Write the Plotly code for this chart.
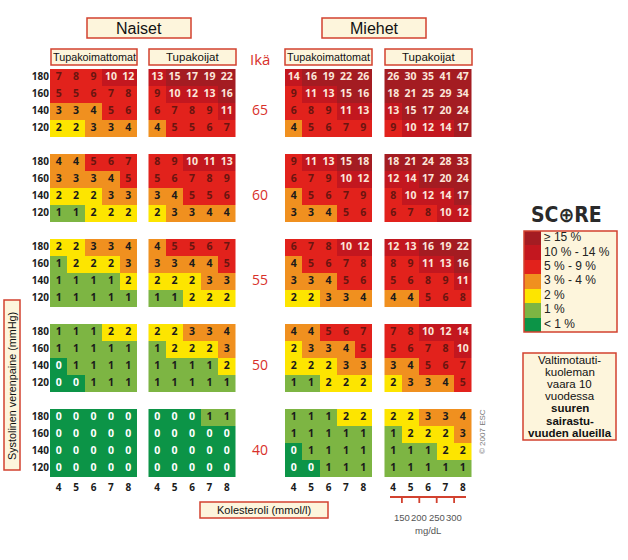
import plotly.graph_objects as go

# --- data -----------------------------------------------------------------
chol = [4, 5, 6, 7, 8]              # kolesteroli mmol/l (sarakkeet)
sbp = [180, 160, 140, 120]          # systolinen verenpaine (rivit)
ages = [65, 60, 55, 50, 40]
mgdl = [150, 200, 250, 300]

naiset_tupakoimattomat = [
    [[7, 8, 9, 10, 12], [5, 5, 6, 7, 8], [3, 3, 4, 5, 6], [2, 2, 3, 3, 4]],
    [[4, 4, 5, 6, 7], [3, 3, 3, 4, 5], [2, 2, 2, 3, 3], [1, 1, 2, 2, 2]],
    [[2, 2, 3, 3, 4], [1, 2, 2, 2, 3], [1, 1, 1, 1, 2], [1, 1, 1, 1, 1]],
    [[1, 1, 1, 2, 2], [1, 1, 1, 1, 1], [0, 1, 1, 1, 1], [0, 0, 1, 1, 1]],
    [[0, 0, 0, 0, 0], [0, 0, 0, 0, 0], [0, 0, 0, 0, 0], [0, 0, 0, 0, 0]],
]
naiset_tupakoijat = [
    [[13, 15, 17, 19, 22], [9, 10, 12, 13, 16], [6, 7, 8, 9, 11], [4, 5, 5, 6, 7]],
    [[8, 9, 10, 11, 13], [5, 6, 7, 8, 9], [3, 4, 5, 5, 6], [2, 3, 3, 4, 4]],
    [[4, 5, 5, 6, 7], [3, 3, 4, 4, 5], [2, 2, 2, 3, 3], [1, 1, 2, 2, 2]],
    [[2, 2, 3, 3, 4], [1, 2, 2, 2, 3], [1, 1, 1, 1, 2], [1, 1, 1, 1, 1]],
    [[0, 0, 0, 1, 1], [0, 0, 0, 0, 0], [0, 0, 0, 0, 0], [0, 0, 0, 0, 0]],
]
miehet_tupakoimattomat = [
    [[14, 16, 19, 22, 26], [9, 11, 13, 15, 16], [6, 8, 9, 11, 13], [4, 5, 6, 7, 9]],
    [[9, 11, 13, 15, 18], [6, 7, 9, 10, 12], [4, 5, 6, 7, 9], [3, 3, 4, 5, 6]],
    [[6, 7, 8, 10, 12], [4, 5, 6, 7, 8], [3, 3, 4, 5, 6], [2, 2, 3, 3, 4]],
    [[4, 4, 5, 6, 7], [2, 3, 3, 4, 5], [2, 2, 2, 3, 3], [1, 1, 2, 2, 2]],
    [[1, 1, 1, 2, 2], [1, 1, 1, 1, 1], [0, 1, 1, 1, 1], [0, 0, 1, 1, 1]],
]
miehet_tupakoijat = [
    [[26, 30, 35, 41, 47], [18, 21, 25, 29, 34], [13, 15, 17, 20, 24], [9, 10, 12, 14, 17]],
    [[18, 21, 24, 28, 33], [12, 14, 17, 20, 24], [8, 10, 12, 14, 17], [6, 7, 8, 10, 12]],
    [[12, 13, 16, 19, 22], [8, 9, 11, 13, 16], [5, 6, 8, 9, 11], [4, 4, 5, 6, 8]],
    [[7, 8, 10, 12, 14], [5, 6, 7, 8, 10], [3, 4, 5, 6, 7], [2, 3, 3, 4, 5]],
    [[2, 2, 3, 3, 4], [1, 2, 2, 2, 3], [1, 1, 1, 2, 2], [1, 1, 1, 1, 1]],
]

legend_labels = ["≥ 15 %", "10 % - 14 %", "5 % - 9 %", "3 % - 4 %", "2 %", "1 %", "< 1 %"]
# colours for categories <1, 1, 2, 3-4, 5-9, 10-14, >=15
cat_colors = ["#0c9447", "#7db543", "#fde500", "#f0901f", "#e2221c", "#c3171f", "#a41c22"]
text_colors = ["#ffffff", "#1b1b1b", "#1b1b1b", "#1b1b1b", "#6a1510", "#fbe6da", "#fbe6da"]


def category(v):
    if v < 1:
        return 0
    if v == 1:
        return 1
    if v == 2:
        return 2
    if v <= 4:
        return 3
    if v <= 9:
        return 4
    if v <= 14:
        return 5
    return 6


cscale = []
for i, c in enumerate(cat_colors):
    cscale.append([i / 7, c])
    cscale.append([(i + 1) / 7, c])

# --- layout constants (pixel space) ---------------------------------------
PANEL_X = [50, 148.5, 285, 384.5]
BLOCK_Y = [69, 154, 239, 324, 409]
CW = 17.4
CH = 17
RED = "#d2412f"
CREAM = "#fdf5dc"
SANS = "Liberation Sans, Arial"

fig = go.Figure()
panels = [naiset_tupakoimattomat, naiset_tupakoijat, miehet_tupakoimattomat, miehet_tupakoijat]

tx, ty, tt, tc = [], [], [], []
for p, panel in enumerate(panels):
    for a, block in enumerate(panel):
        z = [[category(v) for v in row] for row in block]
        fig.add_trace(go.Heatmap(
            z=z, x0=PANEL_X[p] + CW / 2, dx=CW, y0=BLOCK_Y[a] + CH / 2, dy=CH,
            colorscale=cscale, zmin=-0.5, zmax=6.5, showscale=False, hoverinfo="skip"))
        for j, row in enumerate(block):
            for i, v in enumerate(row):
                tx.append(PANEL_X[p] + (i + 0.5) * CW)
                ty.append(BLOCK_Y[a] + (j + 0.5) * CH)
                tt.append(str(v))
                tc.append(text_colors[category(v)])

fig.add_trace(go.Scatter(x=tx, y=ty, text=tt, mode="text", hoverinfo="skip",
                         textfont=dict(family="Open Sans", size=10.5, color=tc, weight="bold")))

# systolic labels left of first panel
rx, ry, rt = [], [], []
for a in range(len(ages)):
    for j, s in enumerate(sbp):
        rx.append(PANEL_X[0] - 1)
        ry.append(BLOCK_Y[a] + (j + 0.5) * CH)
        rt.append(str(s))
fig.add_trace(go.Scatter(x=rx, y=ry, text=rt, mode="text", textposition="middle left",
                         hoverinfo="skip",
                         textfont=dict(family="Open Sans", size=10, color="#1b1b1b", weight="bold")))

# cholesterol tick labels under each panel
cx, cy, ct = [], [], []
for p in range(4):
    for i, c in enumerate(chol):
        cx.append(PANEL_X[p] + (i + 0.5) * CW)
        cy.append(488)
        ct.append(str(c))
fig.add_trace(go.Scatter(x=cx, y=cy, text=ct, mode="text", hoverinfo="skip",
                         textfont=dict(family="Open Sans", size=10, color="#1b1b1b", weight="bold")))

# age labels
fig.add_trace(go.Scatter(x=[260] * len(ages), y=[b + 2.5 * CH for b in BLOCK_Y],
                         text=[str(a) for a in ages], mode="text", hoverinfo="skip",
                         textfont=dict(family="Open Sans", size=14, color="#d8302a")))

# legend swatches
LX, LY, LH = 524, 231, 14.4
fig.add_shape(type="rect", x0=LX, x1=617, y0=LY, y1=332, fillcolor=CREAM,
              line_width=0, layer="below")
fig.add_trace(go.Heatmap(z=[[6 - k] for k in range(7)], x0=LX + 8.5, dx=17,
                         y0=LY + LH / 2, dy=LH, colorscale=cscale, zmin=-0.5, zmax=6.5,
                         showscale=False, hoverinfo="skip"))
fig.add_shape(type="rect", x0=LX, x1=617, y0=LY, y1=332, line=dict(color=RED, width=1.5))
fig.add_trace(go.Scatter(x=[544] * 7, y=[LY + (k + 0.5) * LH for k in range(7)],
                         text=legend_labels, mode="text", textposition="middle right",
                         hoverinfo="skip",
                         textfont=dict(family=SANS, size=12, color="#222")))


def box(x0, x1, y0, y1, text, size):
    fig.add_shape(type="rect", x0=x0, x1=x1, y0=y0, y1=y1, fillcolor=CREAM,
                  line=dict(color=RED, width=1.5), layer="below")
    if text:
        fig.add_annotation(x=(x0 + x1) / 2, y=(y0 + y1) / 2, text=text, showarrow=False,
                           font=dict(family=SANS, size=size, color="#111"))


box(87, 191, 18, 38, "Naiset", 16)
box(322, 426, 18, 38, "Miehet", 16)
box(51, 137, 49, 65, "Tupakoimattomat", 10.8)
box(149, 236, 49, 65, "Tupakoijat", 11.5)
box(285, 372, 49, 65, "Tupakoimattomat", 10.8)
box(385, 472, 49, 65, "Tupakoijat", 11.5)
box(200, 328, 502, 518, "Kolesteroli (mmol/l)", 11)

# y-axis title box
box(4, 20, 300, 470, None, 11)
fig.add_annotation(x=12, y=386, text="Systolinen verenpaine (mmHg)", textangle=-90,
                   showarrow=False, font=dict(family=SANS, size=10.8, color="#111"))

# Ikä
fig.add_annotation(x=260, y=59, text="Ikä", showarrow=False,
                   font=dict(family="Open Sans", size=15, color="#d8302a"))

# SCORE logo
fig.add_annotation(x=566, y=215, text="<b>SC⊕RE</b>", showarrow=False,
                   font=dict(family="DejaVu Sans Condensed, DejaVu Sans", size=21, color="#2a2a2a"))

# risk description box
box(523, 616, 353, 440, None, 11)
desc = ["Valtimotauti-", "kuoleman", "vaara 10", "vuodessa",
        "<b>suuren</b>", "<b>sairastu-</b>", "<b>vuuden alueilla</b>"]
for k, line in enumerate(desc):
    fig.add_annotation(x=569.5, y=360 + k * 12.1, text=line, showarrow=False,
                       font=dict(family=SANS, size=11.5, color="#111"))

# copyright
fig.add_annotation(x=482, y=432, text="© 2007 ESC", textangle=-90, showarrow=False,
                   font=dict(family=SANS, size=8, color="#777"))

# mg/dL scale under men smokers panel
fig.add_shape(type="line", x0=390, x1=466, y0=497, y1=497, line=dict(color=RED, width=1.8))
for i, m in enumerate(mgdl):
    xt = PANEL_X[3] + (i + 1) * CW
    fig.add_shape(type="line", x0=xt, x1=xt, y0=497, y1=503, line=dict(color=RED, width=1.8))
    fig.add_annotation(x=xt, y=517, text=str(m), showarrow=False,
                       font=dict(family=SANS, size=9.5, color="#555"))
fig.add_annotation(x=428, y=530, text="mg/dL", showarrow=False,
                   font=dict(family=SANS, size=9.5, color="#555"))

fig.update_layout(
    width=628, height=560, margin=dict(l=0, r=0, t=0, b=0),
    paper_bgcolor="white", plot_bgcolor="white", showlegend=False,
    xaxis=dict(range=[0, 628], visible=False, fixedrange=True),
    yaxis=dict(range=[560, 0], visible=False, fixedrange=True),
)

fig.write_html("out.html", config={"displayModeBar": False},
               post_script="document.body.style.margin='0px';")
